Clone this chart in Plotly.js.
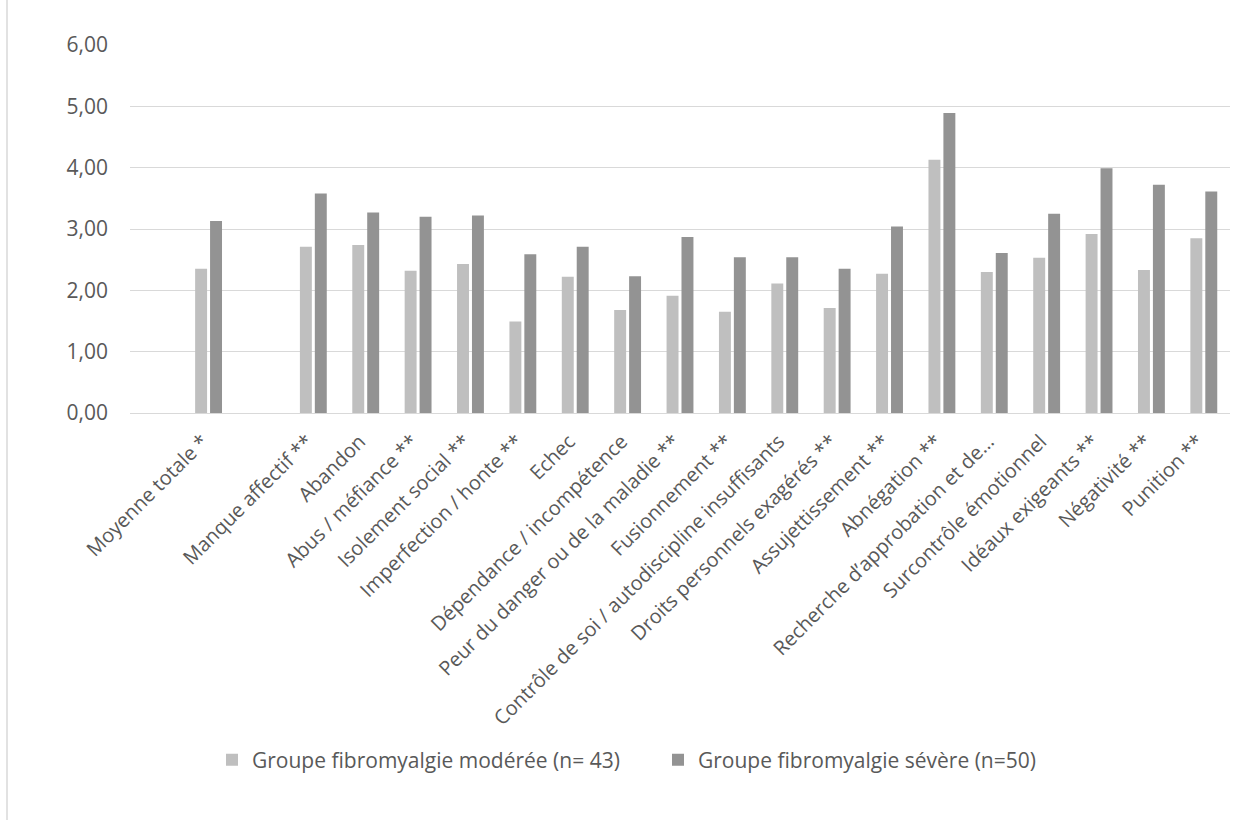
<!DOCTYPE html>
<html>
<head>
<meta charset="utf-8">
<script src="https://cdn.plot.ly/plotly-3.0.1.min.js"></script>
<style>
  html, body { margin: 0; padding: 0; background: #ffffff; }
  #chart { width: 1258px; height: 820px; }
</style>
</head>
<body>
<div id="chart"></div>
<script>
// Categories ("" = empty slot in the original chart)
const categories = [
  "",
  "Moyenne totale *",
  " ",
  "Manque affectif **",
  "Abandon",
  "Abus / méfiance **",
  "Isolement social **",
  "Imperfection / honte **",
  "Echec",
  "Dépendance / incompétence",
  "Peur du danger ou de la maladie **",
  "Fusionnement **",
  "Contrôle de soi / autodiscipline insuffisants",
  "Droits personnels exagérés **",
  "Assujettissement **",
  "Abnégation **",
  "Recherche d’approbation et de…",
  "Surcontrôle émotionnel",
  "Idéaux exigeants **",
  "Négativité **",
  "Punition **"
];

const seriesNames = [
  "Groupe fibromyalgie modérée (n= 43)",
  "Groupe fibromyalgie sévère (n=50)"
];

const moderee = [null, 2.35, null, 2.71, 2.74, 2.32, 2.43, 1.49, 2.22, 1.68, 1.91, 1.65, 2.11, 1.71, 2.27, 4.13, 2.30, 2.53, 2.92, 2.33, 2.85];
const severe  = [null, 3.13, null, 3.58, 3.27, 3.20, 3.22, 2.59, 2.71, 2.23, 2.87, 2.54, 2.54, 2.35, 3.04, 4.89, 2.61, 3.25, 3.99, 3.72, 3.61];

const yTicks = [0, 1, 2, 3, 4, 5, 6];

const positions = categories.map((c, i) => i);
const labelColor = "#595959";
const font = "'Open Sans', 'Noto Sans', sans-serif";

const traces = [
  { type: "bar", name: seriesNames[0], x: positions, y: moderee, marker: { color: "#bfbfbf" }, hoverinfo: "y+name" },
  { type: "bar", name: seriesNames[1], x: positions, y: severe,  marker: { color: "#939393" }, hoverinfo: "y+name" }
];

const layout = {
  width: 1258,
  height: 820,
  margin: { l: 130, r: 28, t: 45, b: 407, pad: 0 },
  paper_bgcolor: "#ffffff",
  plot_bgcolor: "#ffffff",
  separators: ", ",
  font: { family: font, size: 21, color: labelColor },
  barmode: "group",
  bargap: 0.43,
  bargroupgap: 0.2,
  showlegend: true,
  legend: {
    orientation: "h",
    xref: "container", yref: "container",
    x: 212 / 1258, xanchor: "left",
    y: 0.073, yanchor: "middle",
    itemwidth: 30,
    entrywidth: 401,
    entrywidthmode: "pixels",
    font: { family: font, size: 21, color: labelColor },
    itemclick: false
  },
  xaxis: {
    range: [-0.5, categories.length - 0.5],
    tickmode: "array",
    tickvals: positions,
    ticktext: categories,
    tickangle: -45,
    showgrid: false,
    zeroline: false,
    showline: false,
    ticks: "",
    ticklabelstandoff: 12,
    ticklabelshift: -6,
    tickfont: { family: font, size: 20, color: labelColor },
    automargin: false
  },
  yaxis: {
    range: [0, 6.0001],
    tickmode: "array",
    tickvals: yTicks,
    tickformat: ".2f",
    showgrid: true,
    gridcolor: "#d9d9d9",
    gridwidth: 1,
    zeroline: true,
    zerolinecolor: "#d9d9d9",
    zerolinewidth: 1,
    showline: false,
    ticks: "",
    ticklabelstandoff: 21,
    tickfont: { family: font, size: 21, color: labelColor },
    automargin: false
  },
  shapes: [
    { type: "line", xref: "paper", yref: "paper",
      x0: -123 / 1100, x1: -123 / 1100, y0: -407 / 368, y1: 413 / 368,
      line: { color: "#d9d9d9", width: 1.5 } }
  ]
};

Plotly.newPlot("chart", traces, layout, { displayModeBar: false, staticPlot: true });
</script>
</body>
</html>
